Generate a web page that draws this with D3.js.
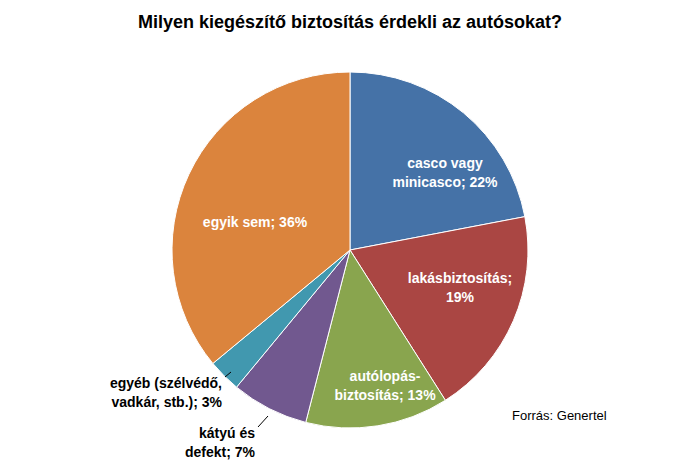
<!DOCTYPE html>
<html><head><meta charset="utf-8">
<script src="https://cdn.jsdelivr.net/npm/d3@7"></script>
<style>body{margin:0;background:#fff;font-family:"Liberation Sans",Arial,sans-serif}</style>
</head><body><svg id="c" width="700" height="467"></svg>
<script>
// data
const categories = ['casco vagy minicasco', 'lakásbiztosítás', 'autólopás-biztosítás', 'kátyú és defekt', 'egyéb (szélvédő, vadkár, stb.)', 'egyik sem'];
const values = [22, 19, 13, 7, 3, 36];
const labelLines = [['casco vagy', 'minicasco; 22%'], ['lakásbiztosítás;', '19%'], ['autólopás-', 'biztosítás; 13%'], ['kátyú és', 'defekt; 7%'], ['egyéb (szélvédő,', 'vadkár, stb.); 3%'], ['egyik sem; 36%']];
const colors = ['#4572A7', '#AA4643', '#89A54E', '#71588F', '#4198AF', '#DB843D'];

const svg = d3.select('#c');
const cx = 350, cy = 250, r = 178;

svg.append('text').attr('x', 350).attr('y', 28).attr('text-anchor', 'middle')
  .attr('font-size', 18).attr('font-weight', 'bold').text('Milyen kiegészítő biztosítás érdekli az autósokat?');

const pie = d3.pie().sort(null).value(d => d)(values);
const arc = d3.arc().innerRadius(0).outerRadius(r);
const g = svg.append('g').attr('transform', `translate(${cx},${cy})`);

g.selectAll('path').data(pie).join('path')
  .attr('d', arc).attr('fill', (d, i) => colors[i])
  .attr('stroke', '#fff').attr('stroke-width', 1);

// label placement: inside labels by radius factor, outside ones with leader lines
const inside = [{ i: 0, dx: 95, dy: -78 }, { i: 1, dx: 110, dy: 37 }, { i: 2, dx: 35, dy: 135 }, { i: 5, dx: -95, dy: -28 }];
inside.forEach(p => {
  const t = g.append('text').attr('text-anchor', 'middle').attr('fill', '#fff')
    .attr('font-size', 14).attr('font-weight', 'bold');
  const lines = labelLines[p.i];
  lines.forEach((s, k) => t.append('tspan').attr('x', p.dx)
    .attr('y', p.dy + (k - (lines.length - 1) / 2) * 19 + 5).text(s));
});

const outside = [{ i: 4, x: -128, y: 133, lx: [-125, -119], ly: [127, 122] }, { i: 3, x: -95, y: 183, lx: [-92, -82], ly: [177, 166] }];
outside.forEach(p => {
  const t = g.append('text').attr('text-anchor', 'end').attr('fill', '#000')
    .attr('font-size', 14).attr('font-weight', 'bold');
  labelLines[p.i].forEach((s, k) => t.append('tspan').attr('x', p.x).attr('y', p.y + k * 19 + 5).text(s));
  g.append('line').attr('x1', p.lx[0]).attr('y1', p.ly[0]).attr('x2', p.lx[1]).attr('y2', p.ly[1])
    .attr('stroke', '#000').attr('stroke-width', 1);
});

svg.append('text').attr('x', 512).attr('y', 420).attr('font-size', 13).text('Forrás: Genertel');
</script></body></html>
